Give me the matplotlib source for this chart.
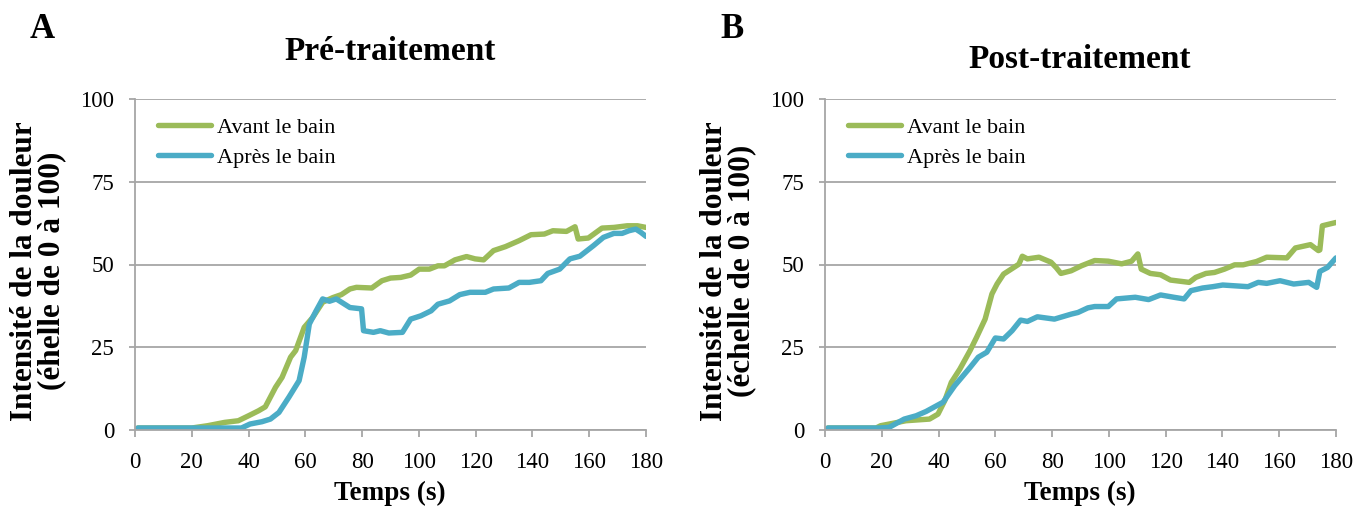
import matplotlib.pyplot as plt

# Panel A - Pré-traitement
pre_t_avant = [1, 20, 25.6, 31.6, 36.4, 40, 43.5, 45.9, 49.5, 51.8, 54.8, 56.6, 59.6, 62.6, 66.1,
               69.7, 72.7, 75.7, 78, 83.4, 87, 90, 93.6, 97.1, 100.1, 103.7, 106.7, 109, 112.7,
               116.8, 119.8, 122.8, 126.3, 130.5, 135.3, 139.5, 144.2, 147.2, 152, 155, 156.1,
               159.7, 164.5, 168.7, 173.4, 177, 180]
pre_avant = [0.6, 0.6, 1.3, 2.3, 2.8, 4.3, 5.8, 7, 12.9, 15.9, 22, 24, 31, 34, 38.6,
             40, 40.9, 42.6, 43.1, 42.9, 45.1, 45.9, 46.1, 46.8, 48.6, 48.6, 49.6, 49.6, 51.4,
             52.4, 51.7, 51.4, 54.2, 55.4, 57.2, 59, 59.2, 60.2, 60, 61.4, 57.7,
             58, 61, 61.2, 61.7, 61.7, 61.2]

pre_t_apres = [1, 35, 37.5, 40.5, 44.7, 47.7, 50.7, 54.2, 57.8, 59.6, 61.4, 63.8, 66.1, 68.5,
               70.9, 75.7, 79.8, 80.5, 84, 86.4, 89.4, 94.2, 97.1, 100.7, 104.3, 106.7, 110.8,
               114.4, 118, 123.4, 126.3, 131.7, 135.3, 138.9, 143, 145.4, 149.6, 153.2, 156.7,
               161.5, 165, 168.7, 171.6, 174, 176.4, 178.2, 180]
pre_apres = [0.6, 0.6, 0.6, 1.8, 2.5, 3.3, 5.3, 9.9, 14.9, 22, 32, 36, 39.6, 38.9,
             39.6, 37, 36.6, 30, 29.5, 30, 29.3, 29.5, 33.5, 34.5, 36, 38, 39,
             40.9, 41.6, 41.6, 42.6, 42.9, 44.6, 44.6, 45.1, 47.3, 48.6, 51.7, 52.5,
             55.7, 58.2, 59.4, 59.4, 60.2, 60.7, 59.7, 58.5]

# Panel B - Post-traitement
post_t_avant = [1, 18, 19.6, 23.8, 28.5, 36.8, 39.8, 42.2, 44.5, 47.5, 51.1, 53.4, 56.4, 58.8,
                60.6, 62.9, 66.5, 68.3, 69.5, 71.3, 75.4, 79.6, 81.4, 83.1, 86.7, 90.3, 95,
                99.8, 104.5, 108, 110.2, 111.4, 114.6, 118.2, 121.7, 128.3, 130.6, 134.2, 137.2,
                140.7, 144.3, 147.3, 152, 155.6, 162.7, 165.7, 171, 173.8, 174.3, 175.2, 180]
post_avant = [0.6, 0.6, 1.3, 2, 2.8, 3.3, 4.8, 8.9, 14.4, 18.4, 24, 28, 33.5, 41.1,
              44.1, 47.1, 49.1, 50.1, 52.5, 51.7, 52.2, 50.7, 49.1, 47.3, 48.1, 49.6, 51.2,
              51, 50.2, 51, 53.2, 48.6, 47.3, 46.9, 45.3, 44.6, 46.1, 47.3, 47.6,
              48.6, 49.9, 49.9, 50.9, 52.2, 52, 55, 56, 54.2, 54.4, 61.7, 62.7]

post_t_apres = [1, 19, 22.6, 27.9, 32.1, 35.6, 41.6, 45.7, 51.1, 54, 57, 60, 62.9, 65.9, 68.9,
                71.3, 74.8, 80.8, 86.7, 89.1, 92.6, 95, 99.8, 102.7, 109.3, 114, 118.2, 122.9,
                126.5, 128.9, 133, 136.6, 140.1, 149, 152.6, 155.6, 160.3, 165.1, 170.4, 173.2,
                174.3, 177, 180]
post_apres = [0.6, 0.6, 0.8, 3.3, 4.3, 5.6, 8.4, 13.4, 18.9, 22, 23.5, 27.8, 27.5, 30, 33.2,
              32.8, 34.2, 33.5, 35, 35.5, 36.9, 37.3, 37.3, 39.6, 40.1, 39.4, 40.8, 40.1,
              39.6, 42.1, 42.9, 43.3, 43.8, 43.3, 44.6, 44.3, 45.1, 44.1, 44.6, 43.1,
              47.9, 49.1, 52]

x_ticks = [0, 20, 40, 60, 80, 100, 120, 140, 160, 180]
y_ticks = [0, 25, 50, 75, 100]

green = '#9BBB59'
blue = '#4BACC6'
grey = '#A6A6A6'

plt.rcParams['font.family'] = ['Liberation Serif', 'DejaVu Serif']

W, H = 1359, 508
fig = plt.figure(figsize=(W / 100, H / 100), dpi=100)


def px(x, y):
    return x / W, 1 - y / H


def draw_panel(left, letter, title, title_y, ylabel, ylabel_x, t1, v1, t2, v2):
    x0, y0 = px(left, 430)
    ax = fig.add_axes([x0, y0, 511 / W, 331 / H])
    ax.plot(t1, v1, color=green, lw=3.9, label='Avant le bain', solid_capstyle='round')
    ax.plot(t2, v2, color=blue, lw=3.9, label='Après le bain', solid_capstyle='round')
    ax.set_xlim(0, 180)
    ax.set_ylim(0, 100)
    ax.set_xticks(x_ticks)
    ax.set_yticks(y_ticks)
    ax.grid(axis='y', color=grey, lw=1.3)
    ax.set_axisbelow(True)
    for s in ['top', 'right']:
        ax.spines[s].set_visible(False)
    for s in ['left', 'bottom']:
        ax.spines[s].set_color(grey)
        ax.spines[s].set_linewidth(1.3)
    ax.tick_params(axis='x', color=grey, length=5, width=1.3, pad=11, labelsize=16.5)
    ax.tick_params(axis='y', color=grey, length=4, width=1.3, pad=11, labelsize=16.5)
    ax.legend(loc='upper left', bbox_to_anchor=(0.045, 0.945), frameon=False, fontsize=16,
              handlelength=2.4, handletextpad=0.25, labelspacing=0.42,
              borderpad=0, borderaxespad=0)

    cx = left + 255
    fig.text(*px(cx, title_y), title, ha='center', va='center', fontsize=24, fontweight='bold')
    fig.text(*px(cx, 493), 'Temps (s)', ha='center', va='center', fontsize=19.5, fontweight='bold')
    fig.text(*px(ylabel_x, 271), ylabel, ha='center', va='center', rotation=90,
             fontsize=22.5, fontweight='bold', linespacing=0.95, multialignment='center')
    fig.text(*px(left - 93, 29), letter, ha='center', va='center', fontsize=25, fontweight='bold')
    return ax


draw_panel(135, 'A', 'Pré-traitement', 52, 'Intensité de la douleur\n(éhelle de 0 à 100)', 38,
           pre_t_avant, pre_avant, pre_t_apres, pre_apres)
draw_panel(825, 'B', 'Post-traitement', 59, 'Intensité de la douleur\n(échelle de 0 à 100)', 728,
           post_t_avant, post_avant, post_t_apres, post_apres)

fig.savefig('out.png', dpi=100)
plt.close()
